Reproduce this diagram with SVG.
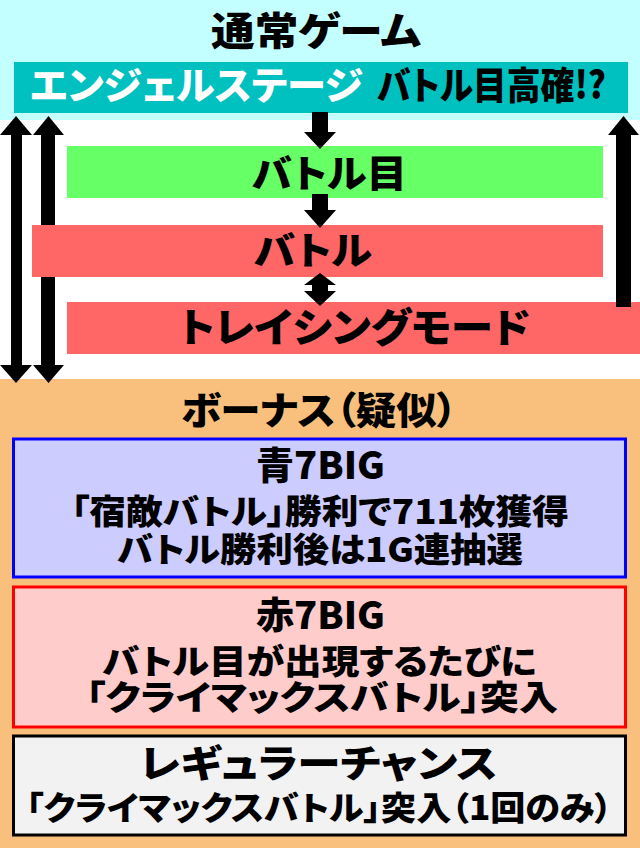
<svg xmlns="http://www.w3.org/2000/svg" width="640" height="848" viewBox="0 0 640 848">
<style>
text{font-family:"Noto Sans CJK JP","Noto Sans",sans-serif;font-weight:900;fill:#000;font-feature-settings:"palt"}
.w{fill:#fff}
.arrow{fill:#000}
</style>
<rect x="0" y="0" width="640" height="120" fill="#c4ffff"/>
<rect x="0" y="120" width="640" height="259" fill="#fff"/>
<rect x="0" y="379" width="640" height="469" fill="#f8c07c"/>
<g id="normal-title">
<text x="316" y="45" font-size="39" text-anchor="middle" textLength="210" lengthAdjust="spacingAndGlyphs">通常ゲーム</text>
</g>
<g id="angel-stage">
<rect x="14" y="62" width="614" height="51" fill="#00c0c0"/>
<text class="w" x="30" y="99" font-size="38" textLength="333" lengthAdjust="spacingAndGlyphs">エンジェルステージ</text>
<text x="377" y="99" font-size="38" textLength="229" lengthAdjust="spacingAndGlyphs">バトル目高確!?</text>
</g>
<g id="battle-eye">
<rect x="67" y="146" width="536" height="52" fill="#66ff66"/>
<text x="252" y="187" font-size="38" textLength="155" lengthAdjust="spacingAndGlyphs">バトル目</text>
</g>
<g id="battle">
<rect x="32" y="225" width="571" height="52" fill="#ff6666"/>
<text x="254" y="264" font-size="38" textLength="118" lengthAdjust="spacingAndGlyphs">バトル</text>
</g>
<g id="tracing-mode">
<rect x="67" y="302" width="573" height="52" fill="#ff6666"/>
<text x="179" y="342" font-size="40" textLength="351" lengthAdjust="spacingAndGlyphs">トレイシングモード</text>
</g>
<g id="connectors">
<polygon class="arrow" points="16,116 32,135 22,135 22,365 32,365 16,383 0,365 11,365 11,135 0,135"/>
<polygon class="arrow" points="48.5,116 64,135 55,135 55,225 41,225 41,135 33,135"/>
<polygon class="arrow" points="48.5,383 64,365 55,365 55,277 41,277 41,365 33,365"/>
<polygon class="arrow" points="623.5,116 639,135 631,135 631,307 616,307 616,135 608,135"/>
<polygon class="arrow" points="312,112 328,112 328,132 336,132 320,149 304,132 312,132"/>
<polygon class="arrow" points="312,194 328,194 328,210 336,210 320,228 304,210 312,210"/>
<polygon class="arrow" points="320,273 336,285 328,285 328,291 336,291 320,306 304,291 312,291 312,285 304,285"/>
</g>
<g id="bonus-title">
<text x="181" y="424" font-size="38" textLength="276" lengthAdjust="spacingAndGlyphs">ボーナス（疑似）</text>
</g>
<g id="blue7">
<rect x="13.5" y="439" width="612" height="138" fill="#ccccff" stroke="#0000ff" stroke-width="3"/>
<text x="320.5" y="479" font-size="38" text-anchor="middle" textLength="129" lengthAdjust="spacingAndGlyphs">青7BIG</text>
<text x="320" y="524" font-size="34" text-anchor="middle" textLength="498" lengthAdjust="spacingAndGlyphs">「宿敵バトル」勝利で711枚獲得</text>
<text x="320" y="562" font-size="34" text-anchor="middle" textLength="406" lengthAdjust="spacingAndGlyphs">バトル勝利後は1G連抽選</text>
</g>
<g id="red7">
<rect x="13.5" y="587" width="612" height="140" fill="#ffcccc" stroke="#ff0000" stroke-width="3"/>
<text x="320.5" y="629" font-size="37" text-anchor="middle" textLength="129" lengthAdjust="spacingAndGlyphs">赤7BIG</text>
<text x="319.5" y="674" font-size="34" text-anchor="middle" textLength="434" lengthAdjust="spacingAndGlyphs">バトル目が出現するたびに</text>
<text x="322" y="710" font-size="34" text-anchor="middle" textLength="472" lengthAdjust="spacingAndGlyphs">「クライマックスバトル」突入</text>
</g>
<g id="regular">
<rect x="13.5" y="736" width="612" height="99" fill="#f2f2f2" stroke="#000" stroke-width="3"/>
<text x="318.5" y="777" font-size="38" text-anchor="middle" textLength="358" lengthAdjust="spacingAndGlyphs">レギュラーチャンス</text>
<text x="319" y="820" font-size="33" text-anchor="middle" textLength="586" lengthAdjust="spacingAndGlyphs">「クライマックスバトル」突入（1回のみ）</text>
</g>
</svg>
